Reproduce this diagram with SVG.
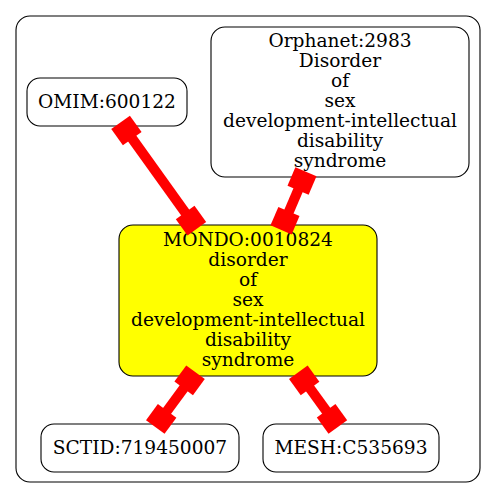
<svg xmlns="http://www.w3.org/2000/svg" xmlns:xlink="http://www.w3.org/1999/xlink" width="496" height="499" viewBox="0 0 496 499">
<style>
.cl{fill:#fff;stroke:#000;stroke-width:1.1}
.nd{fill:#fff;stroke:#000;stroke-width:1.1}
.main{fill:#ffff00}
text{font-family:"DejaVu Serif","Liberation Serif",serif;font-size:18.6px;fill:#000;text-anchor:middle}
.ln{stroke:#ff0000;stroke-width:10;fill:none}
.bx{fill:#ff0000}
</style>
<defs>
<rect id="bx" class="bx" x="-10" y="-11.5" width="20" height="23"/>
</defs>
<rect width="496" height="499" fill="#fff"/>
<g id="cluster">
<rect class="cl" x="16" y="16" width="464" height="466" rx="14" ry="14"/>
</g>
<g id="OMIM">
<rect class="nd" x="27" y="78" width="160" height="48" rx="13" ry="13"/>
<text x="107" y="107.5">OMIM:600122</text>
</g>
<g id="Orphanet">
<rect class="nd" x="211" y="27" width="258" height="150" rx="14" ry="14"/>
<text x="340" y="46.5">Orphanet:2983</text>
<text x="340" y="66.5">Disorder</text>
<text x="340" y="86.5">of</text>
<text x="340" y="106.5">sex</text>
<text x="340" y="126.5">development-intellectual</text>
<text x="340" y="146.5">disability</text>
<text x="340" y="166.5">syndrome</text>
</g>
<g id="MONDO">
<rect class="nd main" x="119" y="225" width="258" height="151" rx="14" ry="14"/>
<text x="248" y="246">MONDO:0010824</text>
<text x="248" y="266">disorder</text>
<text x="248" y="286">of</text>
<text x="248" y="306">sex</text>
<text x="248" y="326">development-intellectual</text>
<text x="248" y="346">disability</text>
<text x="248" y="366">syndrome</text>
</g>
<g id="SCTID">
<rect class="nd" x="41" y="424" width="198" height="48" rx="13" ry="13"/>
<text x="140" y="453.5">SCTID:719450007</text>
</g>
<g id="MESH">
<rect class="nd" x="263" y="424" width="176" height="48" rx="13" ry="13"/>
<text x="351" y="453.5">MESH:C535693</text>
</g>
<g id="connectors">
<line class="ln" x1="126.4" y1="130.5" x2="191" y2="220.6"/>
<use xlink:href="#bx" transform="translate(126.4,130.5) rotate(54.3)"/>
<use xlink:href="#bx" transform="translate(191,220.6) rotate(54.3)"/>
<line class="ln" x1="302" y1="181" x2="285" y2="220.7"/>
<use xlink:href="#bx" transform="translate(302,181) rotate(113.2)"/>
<use xlink:href="#bx" transform="translate(285,220.7) rotate(113.2)"/>
<line class="ln" x1="189.6" y1="380.3" x2="161.2" y2="418.9"/>
<use xlink:href="#bx" transform="translate(189.6,380.3) rotate(126.3)"/>
<use xlink:href="#bx" transform="translate(161.2,418.9) rotate(126.3)"/>
<line class="ln" x1="304.2" y1="380.4" x2="332" y2="418.8"/>
<use xlink:href="#bx" transform="translate(304.2,380.4) rotate(54.1)"/>
<use xlink:href="#bx" transform="translate(332,418.8) rotate(54.1)"/>
</g>
</svg>
